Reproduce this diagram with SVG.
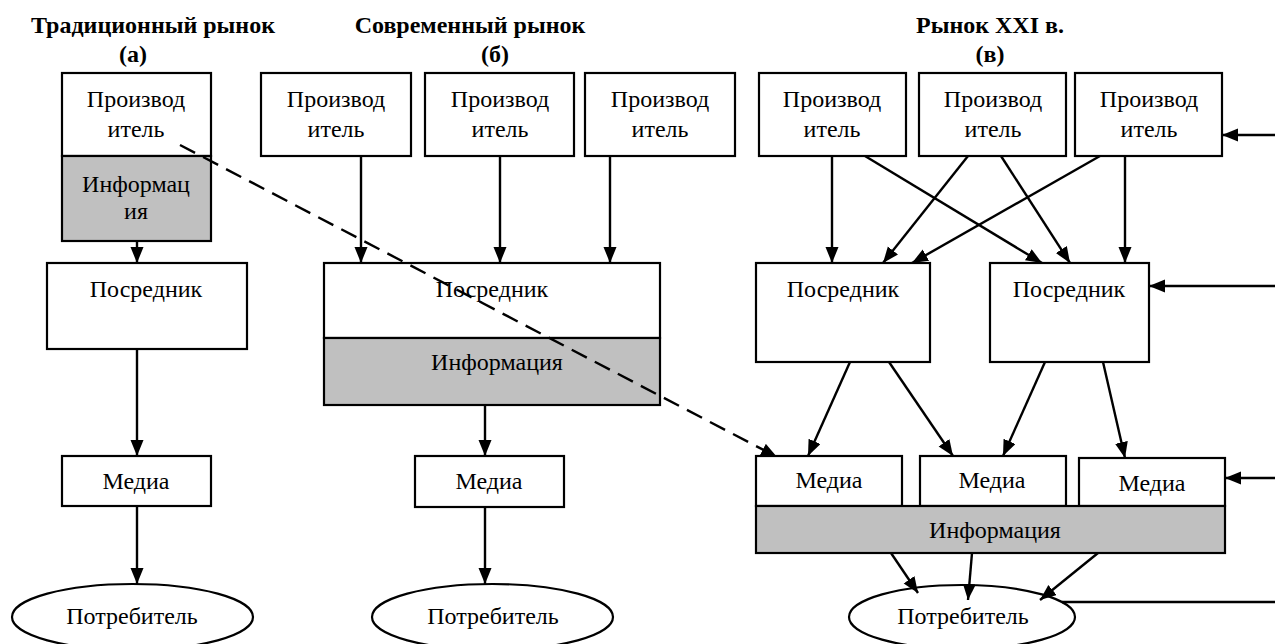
<svg xmlns="http://www.w3.org/2000/svg" width="1275" height="644" viewBox="0 0 1275 644">
<defs>
<style>
text{font-family:'Liberation Serif','Times New Roman',serif;fill:#000;text-anchor:middle}
.t{font-size:24px}
.h{font-size:24px;font-weight:bold}
.b{fill:#fff;stroke:#000;stroke-width:2.2}
.g{fill:#c0c0c0;stroke:#000;stroke-width:2.2}
</style>
<marker id="ah" markerUnits="userSpaceOnUse" markerWidth="17" markerHeight="14" refX="16" refY="6.5" orient="auto">
<path d="M0,0 L16,6.5 L0,13 z" fill="#000"/>
</marker>
</defs>
<rect width="1275" height="644" fill="#fff"/>

<g id="titles">
<text class="h" x="153" y="33">Традиционный рынок</text>
<text class="h" x="133" y="62">(а)</text>
<text class="h" x="470" y="33">Современный рынок</text>
<text class="h" x="495" y="62">(б)</text>
<text class="h" x="990" y="33">Рынок XXI в.</text>
<text class="h" x="990" y="62">(в)</text>
</g>

<!-- column a -->
<g id="a-producer"><rect class="b" x="62" y="73" width="149" height="83"/><text class="t" x="136" y="107">Производ</text><text class="t" x="136" y="137">итель</text></g>
<g id="a-info"><rect class="g" x="62" y="156" width="149" height="85"/><text class="t" x="136" y="192">Информац</text><text class="t" x="136" y="219">ия</text></g>
<g id="a-intermediary"><rect class="b" x="47" y="263" width="200" height="86"/><text class="t" x="146" y="297">Посредник</text></g>
<g id="a-media"><rect class="b" x="62" y="456" width="149" height="50"/><text class="t" x="136" y="489">Медиа</text></g>
<g id="a-consumer"><ellipse class="b" cx="132.5" cy="617" rx="120.5" ry="33"/><text class="t" x="132" y="624">Потребитель</text></g>

<!-- column b -->
<g id="b-producer1"><rect class="b" x="261" y="73" width="150" height="83"/><text class="t" x="336" y="107">Производ</text><text class="t" x="336" y="137">итель</text></g>
<g id="b-producer2"><rect class="b" x="425" y="73" width="149" height="83"/><text class="t" x="500" y="107">Производ</text><text class="t" x="500" y="137">итель</text></g>
<g id="b-producer3"><rect class="b" x="585" y="73" width="150" height="83"/><text class="t" x="660" y="107">Производ</text><text class="t" x="660" y="137">итель</text></g>
<g id="b-intermediary"><rect class="b" x="324" y="263" width="336" height="75"/><text class="t" x="492" y="297">Посредник</text></g>
<g id="b-info"><rect class="g" x="324" y="338" width="336" height="67"/><text class="t" x="497" y="370">Информация</text></g>
<g id="b-media"><rect class="b" x="415" y="456" width="149" height="51"/><text class="t" x="489" y="489">Медиа</text></g>
<g id="b-consumer"><ellipse class="b" cx="492.5" cy="617" rx="120.5" ry="33"/><text class="t" x="493" y="624">Потребитель</text></g>

<!-- column c -->
<g id="c-producer1"><rect class="b" x="759" y="73" width="147" height="83"/><text class="t" x="832" y="107">Производ</text><text class="t" x="832" y="137">итель</text></g>
<g id="c-producer2"><rect class="b" x="919" y="73" width="147" height="83"/><text class="t" x="993" y="107">Производ</text><text class="t" x="993" y="137">итель</text></g>
<g id="c-producer3"><rect class="b" x="1075" y="73" width="147" height="83"/><text class="t" x="1149" y="107">Производ</text><text class="t" x="1149" y="137">итель</text></g>
<g id="c-intermediary1"><rect class="b" x="756" y="263" width="174" height="99"/><text class="t" x="843" y="297">Посредник</text></g>
<g id="c-intermediary2"><rect class="b" x="990" y="263" width="159" height="99"/><text class="t" x="1069" y="297">Посредник</text></g>
<g id="c-media1"><rect class="b" x="756" y="456" width="146" height="50"/><text class="t" x="829" y="488">Медиа</text></g>
<g id="c-media2"><rect class="b" x="920" y="456" width="146" height="50"/><text class="t" x="992" y="488">Медиа</text></g>
<g id="c-media3"><rect class="b" x="1079" y="458" width="146" height="48"/><text class="t" x="1152" y="491">Медиа</text></g>
<g id="c-info"><rect class="g" x="756" y="506" width="469" height="47"/><text class="t" x="995" y="538">Информация</text></g>
<g id="c-consumer"><ellipse class="b" cx="962" cy="617" rx="113" ry="32"/><text class="t" x="963" y="624">Потребитель</text></g>

<g id="connectors" stroke="#000" stroke-width="2.4" fill="none">
<!-- a -->
<line marker-end="url(#ah)" x1="137" y1="241" x2="137" y2="263"/>
<line marker-end="url(#ah)" x1="137" y1="349" x2="137" y2="456"/>
<line marker-end="url(#ah)" x1="137" y1="506" x2="137" y2="584"/>
<!-- b -->
<line marker-end="url(#ah)" x1="361" y1="156" x2="361" y2="263"/>
<line marker-end="url(#ah)" x1="500" y1="156" x2="500" y2="263"/>
<line marker-end="url(#ah)" x1="610" y1="156" x2="610" y2="263"/>
<line marker-end="url(#ah)" x1="485" y1="405" x2="485" y2="456"/>
<line marker-end="url(#ah)" x1="485" y1="507" x2="485" y2="584"/>
<!-- c producers to intermediaries -->
<line marker-end="url(#ah)" x1="832" y1="156" x2="832" y2="263"/>
<line marker-end="url(#ah)" x1="865" y1="156" x2="1042" y2="263"/>
<line marker-end="url(#ah)" x1="968" y1="156" x2="883" y2="263"/>
<line marker-end="url(#ah)" x1="1001" y1="156" x2="1070" y2="263"/>
<line marker-end="url(#ah)" x1="1100" y1="156" x2="912" y2="263"/>
<line marker-end="url(#ah)" x1="1125" y1="156" x2="1125" y2="263"/>
<!-- c intermediaries to media -->
<line marker-end="url(#ah)" x1="850" y1="362" x2="808" y2="456"/>
<line marker-end="url(#ah)" x1="889" y1="362" x2="953" y2="456"/>
<line marker-end="url(#ah)" x1="1045" y1="362" x2="1003" y2="456"/>
<line marker-end="url(#ah)" x1="1103" y1="362" x2="1125" y2="458"/>
<!-- c info to consumer -->
<line marker-end="url(#ah)" x1="891" y1="553" x2="918" y2="593"/>
<line marker-end="url(#ah)" x1="972" y1="553" x2="968" y2="600"/>
<line marker-end="url(#ah)" x1="1098" y1="553" x2="1040" y2="600"/>
<!-- c right-side feedback -->
<line marker-end="url(#ah)" x1="1275" y1="135" x2="1222" y2="135"/>
<line marker-end="url(#ah)" x1="1275" y1="286" x2="1149" y2="286"/>
<line marker-end="url(#ah)" x1="1275" y1="478" x2="1225" y2="478"/>
<line x1="1062" y1="602" x2="1275" y2="602"/>
<!-- dashed -->
<line marker-end="url(#ah)" stroke-dasharray="17,9" x1="180" y1="145" x2="777" y2="457"/>
</g>
</svg>
